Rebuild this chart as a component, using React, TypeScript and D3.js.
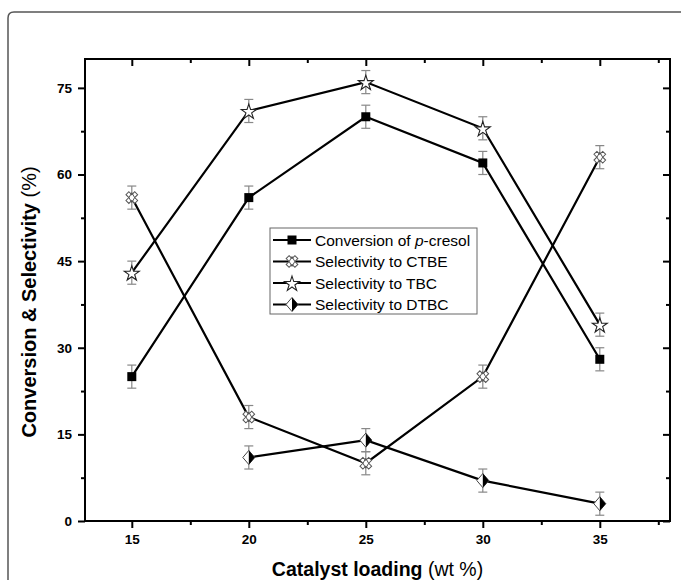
import React, { useEffect, useRef } from "react";
import * as d3 from "d3";

// catalyst loading (wt %)
const loading = [15, 20, 25, 30, 35];
const conversion = [25, 56, 70, 62, 28];
const selCTBE = [56, 18, 10, 25, 63];
const selTBC = [43, 71, 76, 68, 34];
const dtbcLoading = [20, 25, 30, 35];
const selDTBC = [11, 14, 7, 3];
const errBar = 2;

const xTicks = [15, 20, 25, 30, 35];
const xMinor = [17.5, 22.5, 27.5, 32.5, 37.5];
const yTicks = [0, 15, 30, 45, 60, 75];
const yMinor = [7.5, 22.5, 37.5, 52.5, 67.5];

const legendLabels = ["Conversion of ", "Selectivity to CTBE", "Selectivity to TBC", "Selectivity to DTBC"];

export default function App() {
  const ref = useRef<SVGSVGElement>(null);

  useEffect(() => {
    const svg = d3.select(ref.current);
    svg.selectAll("*").remove();

    const left = 85, right = 670, top = 59, bottom = 521;
    const x = d3.scaleLinear().domain([13, 38]).range([left, right]);
    const y = d3.scaleLinear().domain([0, 80]).range([bottom, top]);

    // outer figure border (cropped)
    svg.append("path")
      .attr("d", "M8,580 L8,18 Q8,12 14,12 L681,12")
      .attr("fill", "none")
      .attr("stroke", "#555")
      .attr("stroke-width", 1.5);

    const font = "'Liberation Sans', Arial, sans-serif";

    // axes
    const gx = svg.append("g").attr("transform", `translate(0,${bottom})`);
    gx.call(d3.axisBottom(x).tickValues(xTicks).tickSize(7).tickSizeOuter(0).tickPadding(6));
    const gxm = svg.append("g").attr("transform", `translate(0,${bottom})`);
    gxm.call(d3.axisBottom(x).tickValues(xMinor).tickSize(4).tickSizeOuter(0).tickFormat(() => ""));
    const gy = svg.append("g").attr("transform", `translate(${left},0)`);
    gy.call(d3.axisLeft(y).tickValues(yTicks).tickSize(7).tickSizeOuter(0).tickPadding(6));
    const gym = svg.append("g").attr("transform", `translate(${left},0)`);
    gym.call(d3.axisLeft(y).tickValues(yMinor).tickSize(4).tickSizeOuter(0).tickFormat(() => ""));
    // top and right, ticks inward
    const gt = svg.append("g").attr("transform", `translate(0,${top})`);
    gt.call(d3.axisTop(x).tickValues(xTicks).tickSize(-7).tickSizeOuter(0).tickFormat(() => ""));
    const gtm = svg.append("g").attr("transform", `translate(0,${top})`);
    gtm.call(d3.axisTop(x).tickValues(xMinor).tickSize(-4).tickSizeOuter(0).tickFormat(() => ""));
    const gr = svg.append("g").attr("transform", `translate(${right},0)`);
    gr.call(d3.axisRight(y).tickValues(yTicks).tickSize(-7).tickSizeOuter(0).tickFormat(() => ""));
    const grm = svg.append("g").attr("transform", `translate(${right},0)`);
    grm.call(d3.axisRight(y).tickValues(yMinor).tickSize(-4).tickSizeOuter(0).tickFormat(() => ""));

    svg.selectAll(".domain").remove();
    svg.selectAll(".tick line").attr("stroke", "#000").attr("stroke-width", 2);
    svg.selectAll(".tick text")
      .attr("font-family", font)
      .attr("font-size", 13.5)
      .attr("font-weight", "bold")
      .attr("fill", "#000");

    svg.append("rect")
      .attr("x", left).attr("y", top)
      .attr("width", right - left).attr("height", bottom - top)
      .attr("fill", "none").attr("stroke", "#000").attr("stroke-width", 2);

    // axis titles
    const xt = svg.append("text")
      .attr("x", (left + right) / 2).attr("y", 576)
      .attr("text-anchor", "middle")
      .attr("font-family", font).attr("font-size", 19.5);
    xt.append("tspan").attr("font-weight", "bold").text("Catalyst loading ");
    xt.append("tspan").text("(wt %)");

    const yt = svg.append("text")
      .attr("transform", `translate(36,${302}) rotate(-90)`)
      .attr("text-anchor", "middle")
      .attr("font-family", font).attr("font-size", 20);
    yt.append("tspan").attr("font-weight", "bold").text("Conversion & Selectivity ");
    yt.append("tspan").text("(%)");

    const line = d3.line<[number, number]>().x(d => x(d[0])).y(d => y(d[1]));

    const series = [
      { xs: loading, ys: conversion, marker: "square" },
      { xs: loading, ys: selCTBE, marker: "cross" },
      { xs: loading, ys: selTBC, marker: "star" },
      { xs: dtbcLoading, ys: selDTBC, marker: "diamond" },
    ];

    const drawMarker = (g: any, type: string, cx: number, cy: number) => {
      if (type === "square") {
        g.append("rect").attr("x", cx - 4.5).attr("y", cy - 4.5).attr("width", 9).attr("height", 9).attr("fill", "#000");
      } else if (type === "cross") {
        g.append("path")
          .attr("d", d3.symbol().type(d3.symbolCross).size(85)())
          .attr("transform", `translate(${cx},${cy}) rotate(45)`)
          .attr("fill", "#fff").attr("stroke", "#555").attr("stroke-width", 1);
        g.append("path")
          .attr("d", d3.symbol().type(d3.symbolDiamond).size(28)())
          .attr("transform", `translate(${cx},${cy})`)
          .attr("fill", "none").attr("stroke", "#555").attr("stroke-width", 1);
      } else if (type === "star") {
        g.append("path")
          .attr("d", d3.symbol().type(d3.symbolStar).size(70)())
          .attr("transform", `translate(${cx},${cy + 1})`)
          .attr("fill", "#fff").attr("stroke", "#222").attr("stroke-width", 1.1);
      } else {
        const w = 6, h = 7;
        g.append("path")
          .attr("d", `M${cx},${cy - h} L${cx + w},${cy} L${cx},${cy + h} L${cx - w},${cy} Z`)
          .attr("fill", "#fff").attr("stroke", "#444").attr("stroke-width", 1);
        g.append("path")
          .attr("d", `M${cx},${cy - h} L${cx + w},${cy} L${cx},${cy + h} Z`)
          .attr("fill", "#000");
      }
    };

    const plot = svg.append("g");
    // error bars
    series.forEach(s => {
      s.xs.forEach((xv, i) => {
        const cx = x(xv), y0 = y(s.ys[i] - errBar), y1 = y(s.ys[i] + errBar);
        const eg = plot.append("g").attr("stroke", "#888").attr("stroke-width", 1.2);
        eg.append("line").attr("x1", cx).attr("x2", cx).attr("y1", y0).attr("y2", y1);
        eg.append("line").attr("x1", cx - 4.5).attr("x2", cx + 4.5).attr("y1", y0).attr("y2", y0);
        eg.append("line").attr("x1", cx - 4.5).attr("x2", cx + 4.5).attr("y1", y1).attr("y2", y1);
      });
    });
    // lines
    series.forEach(s => {
      plot.append("path")
        .attr("d", line(s.xs.map((xv, i) => [xv, s.ys[i]] as [number, number])))
        .attr("fill", "none").attr("stroke", "#000").attr("stroke-width", 2.2);
    });
    // markers
    series.forEach(s => {
      s.xs.forEach((xv, i) => drawMarker(plot, s.marker, x(xv), y(s.ys[i])));
    });

    // legend
    const lg = svg.append("g");
    const lx = 270, ly = 228, rowH = 21.5;
    lg.append("rect").attr("x", lx).attr("y", ly).attr("width", 207).attr("height", 86)
      .attr("fill", "#fff").attr("stroke", "#666").attr("stroke-width", 1);
    series.forEach((s, i) => {
      const cy = ly + 12 + i * rowH;
      lg.append("line").attr("x1", lx + 3).attr("x2", lx + 41).attr("y1", cy).attr("y2", cy)
        .attr("stroke", "#000").attr("stroke-width", 2.2);
      drawMarker(lg, s.marker, lx + 22, cy);
      const t = lg.append("text").attr("x", lx + 45).attr("y", cy + 5.5)
        .attr("font-family", font).attr("font-size", 15.5).attr("fill", "#000");
      t.append("tspan").text(legendLabels[i]);
      if (i === 0) {
        t.append("tspan").attr("font-style", "italic").text("p");
        t.append("tspan").text("-cresol");
      }
    });
  }, []);

  return (
    <div style={{ position: "absolute", left: 0, top: 0 }}>
      <svg ref={ref} width={681} height={580} style={{ display: "block", background: "#fff" }} />
    </div>
  );
}
